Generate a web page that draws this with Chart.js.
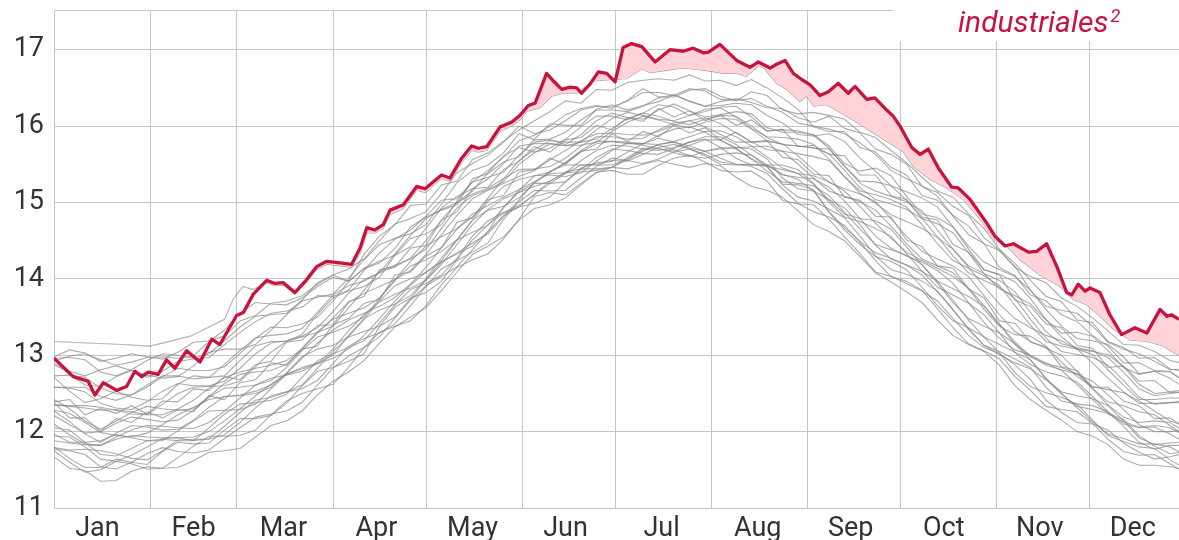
<!DOCTYPE html>
<html>
<head>
<meta charset="utf-8">
<script src="https://cdn.jsdelivr.net/npm/chart.js@4.4.0/dist/chart.umd.min.js"></script>
<style>
  html, body { margin: 0; padding: 0; background: #fff; overflow: hidden; }
  #grafico { display: block; }
</style>
</head>
<body>
<canvas id="grafico" width="1179" height="540"></canvas>
<script>
// ejes
var monthStarts = [0, 31, 59, 90, 120, 151, 181, 212, 243, 273, 304, 334]
var monthMids = [14, 45, 74, 104, 135, 165, 196, 227, 257, 287, 318, 348]
var monthNames = ['Jan', 'Feb', 'Mar', 'Apr', 'May', 'Jun', 'Jul', 'Aug', 'Sep', 'Oct', 'Nov', 'Dec']
var yTicks = [11, 12, 13, 14, 15, 16, 17]

// año actual (linea roja)
var redDays = [0, 6.2, 11, 13.2, 15.9, 20.2, 23.4, 26.1, 28.3, 30.4, 33.6, 36.3, 39, 42.8, 47.1, 50.9, 53.5, 58.9, 61.1, 64.3,
  68.6, 71.3, 74, 77.7, 81.5, 84.7, 88, 92.3, 96, 98.7, 100.9, 103.5, 106.2, 108.4, 112.7, 117, 119.7, 125, 127.7, 131.5,
  134.7, 136.9, 139.6, 143.9, 147.6, 150.3, 153, 155.2, 158.9, 161.1, 163.8, 166.5, 168.6, 170.2, 172.9, 175.6, 178.3, 181, 183.6, 186.3,
  189.6, 193.9, 198.7, 203, 206.2, 209.5, 211.1, 214.8, 220.2, 224.5, 227.2, 231, 233.1, 235.8, 238.5, 241.2, 243.9, 247.1, 249.8, 253,
  256.2, 258.4, 262.2, 264.8, 268.6, 270.7, 272.9, 276.7, 279.4, 282, 285.3, 289.6, 291.7, 295.5, 300.9, 303.5, 306.8, 309.5, 314.3, 317,
  320.2, 323.5, 326.7, 328.3, 330.4, 332.6, 334.2, 337.4, 340.6, 344.4, 348.7, 352.5, 356.8, 359, 360.5, 362.9, 364]
var redTemps = [12.96, 12.72, 12.66, 12.48, 12.64, 12.54, 12.59, 12.79, 12.72, 12.78, 12.75, 12.94, 12.83, 13.06, 12.91, 13.21, 13.14, 13.52, 13.56, 13.80,
  13.98, 13.94, 13.95, 13.82, 13.99, 14.16, 14.23, 14.21, 14.19, 14.40, 14.67, 14.64, 14.71, 14.90, 14.97, 15.21, 15.18, 15.36, 15.32, 15.58,
  15.74, 15.71, 15.73, 15.99, 16.05, 16.14, 16.27, 16.30, 16.69, 16.59, 16.48, 16.51, 16.50, 16.43, 16.55, 16.71, 16.69, 16.58, 17.03, 17.08,
  17.04, 16.84, 17.00, 16.98, 17.02, 16.96, 16.97, 17.07, 16.86, 16.77, 16.84, 16.76, 16.81, 16.86, 16.69, 16.61, 16.54, 16.40, 16.45, 16.56,
  16.43, 16.52, 16.35, 16.37, 16.21, 16.13, 16.00, 15.72, 15.63, 15.70, 15.45, 15.20, 15.19, 15.04, 14.73, 14.56, 14.43, 14.46, 14.35, 14.36,
  14.46, 14.16, 13.82, 13.79, 13.93, 13.84, 13.88, 13.82, 13.53, 13.27, 13.36, 13.29, 13.60, 13.51, 13.53, 13.47, 13.44]

// maximo de los años anteriores
var maxDays = [0, 11, 22, 31, 44, 55, 58, 61, 64.3, 68.6, 71.3, 74, 77.7, 81.5, 84.7, 88, 92.3, 96, 98.7, 100.9,
  103.5, 106.2, 108.4, 112.7, 117, 119.7, 125, 127.7, 131.5, 134.7, 136.9, 139.6, 143.9, 147.6, 150.3,
  152.5, 156.8, 160.5, 164.3, 168.6, 174, 180.4, 184.7, 189.6, 192.3, 197.6, 203, 207.3, 211.6, 215.9, 220.2, 223.4, 227.2, 229, 233.1,
  236.3, 240.6, 242.8, 245, 249.3, 255.7, 260, 264.3, 268.6, 274, 277.2, 282.6, 288, 293.3, 298.7, 303.5, 307.3, 311.6, 318, 324.5,
  328.8, 333.1, 337.4, 341.7, 347.1, 352.5, 357.8, 362.9, 365]
var maxTemps = [13.18, 13.16, 13.14, 13.12, 13.25, 13.47, 13.75, 13.90, 13.86, 13.95, 13.91, 13.92, 13.80, 13.96, 14.12, 14.19, 14.17, 14.15, 14.33, 14.60,
  14.60, 14.66, 14.84, 14.92, 15.16, 15.13, 15.31, 15.28, 15.52, 15.68, 15.66, 15.68, 15.93, 16.00, 16.08,
  16.19, 16.24, 16.39, 16.43, 16.43, 16.59, 16.61, 16.62, 16.75, 16.70, 16.73, 16.76, 16.74, 16.72, 16.69, 16.69, 16.65, 16.79, 16.76, 16.56,
  16.48, 16.32, 16.39, 16.26, 16.28, 16.13, 16.02, 15.91, 15.80, 15.66, 15.47, 15.30, 15.19, 15.04, 14.78, 14.51, 14.43, 14.25, 14.05, 13.90,
  13.73, 13.66, 13.51, 13.34, 13.20, 13.18, 13.12, 12.99, 12.97]

// años anteriores (cada 5 dias)
var grayDays = [0, 5, 10, 15, 20, 25, 30, 35, 40, 45, 50, 55, 60, 65, 70, 75, 80, 85, 90, 95, 100, 105, 110, 115, 120, 125, 130, 135, 140, 145,
  150, 155, 160, 165, 170, 175, 180, 185, 190, 195, 200, 205, 210, 215, 220, 225, 230, 235, 240, 245, 250, 255, 260, 265, 270, 275, 280, 285, 290, 295,
  300, 305, 310, 315, 320, 325, 330, 335, 340, 345, 350, 355, 360, 365]

var s01 = [11.75,11.60,11.47,11.50,11.61,11.58,11.51,11.52,11.66,11.81,11.94,11.94,11.95,12.02,12.22,12.40,12.50,12.56,12.62,12.84,13.10,13.30,13.38,13.45,13.65,13.92,14.15,14.25,14.33,14.52,14.78,15.08,15.13,15.10,15.25,15.40,15.42,15.37,15.37,15.49,15.58,15.62,15.53,15.42,15.40,15.41,15.28,15.03,14.98,14.97,14.78,14.55,14.33,14.09,14.03,13.97,13.85,13.61,13.36,13.15,13.06,12.95,12.72,12.54,12.33,12.29,12.26,12.11,11.90,11.74,11.69,11.70,11.58,11.46]
var s02 = [11.79,11.76,11.77,11.75,11.71,11.65,11.63,11.75,11.89,11.90,11.90,11.96,12.12,12.31,12.47,12.52,12.56,12.67,12.89,13.12,13.22,13.29,13.41,13.65,13.90,14.13,14.24,14.35,14.47,14.78,15.01,15.16,15.15,15.16,15.32,15.47,15.58,15.55,15.51,15.57,15.66,15.70,15.61,15.50,15.49,15.50,15.47,15.23,15.07,15.02,14.91,14.80,14.56,14.30,14.12,14.06,13.97,13.84,13.60,13.34,13.13,13.05,12.95,12.84,12.58,12.40,12.36,12.34,12.26,12.07,11.86,11.77,11.82,11.82]
var s03 = [12.05,12.02,11.86,11.70,11.68,11.78,11.88,11.90,11.88,11.88,12.05,12.23,12.36,12.38,12.41,12.49,12.71,12.93,13.02,13.10,13.19,13.42,13.66,13.86,13.94,14.05,14.27,14.56,14.76,14.87,14.96,15.10,15.25,15.38,15.49,15.49,15.49,15.57,15.69,15.75,15.69,15.61,15.58,15.63,15.65,15.62,15.47,15.24,15.23,15.17,14.87,14.64,14.45,14.29,14.23,14.12,13.89,13.65,13.45,13.36,13.24,13.03,12.77,12.59,12.51,12.45,12.36,12.15,11.95,11.87,11.80,11.78,11.63,11.51]
var s04 = [11.97,11.86,11.86,11.88,11.96,11.92,11.88,11.88,12.01,12.14,12.27,12.28,12.29,12.36,12.56,12.75,12.84,12.90,13.00,13.26,13.48,13.59,13.67,13.78,14.00,14.28,14.51,14.61,14.70,14.93,15.16,15.35,15.36,15.34,15.39,15.54,15.68,15.78,15.75,15.70,15.67,15.75,15.82,15.82,15.70,15.57,15.47,15.43,15.38,15.24,15.00,14.81,14.75,14.66,14.56,14.33,14.10,13.89,13.79,13.68,13.53,13.29,13.03,12.88,12.78,12.73,12.65,12.46,12.26,12.10,12.05,12.06,11.97,11.85]
var s05 = [12.27,12.13,11.97,11.86,11.98,12.08,12.06,12.02,12.03,12.15,12.32,12.46,12.47,12.50,12.58,12.77,12.98,13.08,13.13,13.24,13.47,13.71,13.91,14.00,14.08,14.24,14.51,14.77,14.90,14.95,15.06,15.25,15.41,15.49,15.49,15.50,15.54,15.66,15.77,15.84,15.79,15.71,15.67,15.70,15.72,15.70,15.57,15.32,15.18,15.15,15.04,14.93,14.71,14.44,14.26,14.18,14.10,13.97,13.72,13.46,13.24,13.14,13.04,12.94,12.70,12.49,12.33,12.29,12.24,12.16,11.95,11.81,11.71,11.74]
var s06 = [12.21,12.09,11.98,12.00,12.11,12.19,12.16,12.13,12.15,12.28,12.45,12.57,12.58,12.61,12.67,12.84,13.06,13.24,13.30,13.38,13.50,13.74,13.98,14.17,14.25,14.36,14.51,14.77,15.01,15.21,15.30,15.35,15.40,15.52,15.68,15.80,15.80,15.77,15.77,15.88,15.96,15.99,15.92,15.81,15.72,15.73,15.74,15.67,15.50,15.32,15.15,15.08,15.01,14.90,14.69,14.46,14.26,14.17,14.08,13.87,13.60,13.38,13.27,13.25,13.12,12.91,12.72,12.59,12.55,12.51,12.40,12.27,12.14,12.08]
var s07 = [12.42,12.30,12.14,12.03,12.14,12.25,12.33,12.30,12.28,12.30,12.46,12.63,12.75,12.78,12.80,12.88,13.09,13.31,13.47,13.55,13.62,13.75,13.99,14.23,14.43,14.55,14.66,14.81,15.06,15.31,15.43,15.44,15.47,15.58,15.74,15.86,15.86,15.83,15.84,15.95,16.04,16.07,15.99,15.89,15.79,15.79,15.80,15.77,15.61,15.43,15.26,15.18,15.11,15.01,14.79,14.56,14.36,14.26,14.17,14.03,13.78,13.53,13.31,13.18,13.09,13.00,12.79,12.57,12.39,12.34,12.26,12.22,12.08,11.94]
var s08 = [12.35,12.34,12.34,12.32,12.28,12.23,12.22,12.36,12.50,12.58,12.59,12.60,12.66,12.85,13.04,13.18,13.24,13.30,13.38,13.62,13.85,14.10,14.18,14.26,14.39,14.66,14.93,15.09,15.17,15.27,15.50,15.65,15.77,15.75,15.75,15.79,15.93,16.05,16.13,16.08,16.02,15.98,16.05,16.10,16.09,15.96,15.81,15.76,15.74,15.71,15.70,15.48,15.25,15.15,15.08,15.01,14.89,14.64,14.39,14.17,14.07,13.98,13.83,13.56,13.31,13.15,13.10,13.06,12.97,12.78,12.56,12.47,12.50,12.52]
var s09 = [12.58,12.57,12.52,12.37,12.31,12.29,12.39,12.53,12.63,12.60,12.60,12.66,12.83,13.02,13.16,13.19,13.25,13.36,13.57,13.81,13.99,14.08,14.16,14.27,14.50,14.77,15.00,15.11,15.19,15.31,15.55,15.69,15.81,15.79,15.79,15.83,15.97,16.10,16.17,16.13,16.06,16.02,16.09,16.14,16.13,16.00,15.85,15.76,15.74,15.72,15.64,15.42,15.19,15.04,14.98,14.91,14.79,14.55,14.30,14.08,13.98,13.89,13.74,13.47,13.22,13.05,13.01,12.97,12.87,12.67,12.45,12.36,12.38,12.41]
var s10 = [12.58,12.58,12.58,12.46,12.41,12.48,12.61,12.73,12.73,12.69,12.71,12.88,13.06,13.23,13.26,13.28,13.35,13.56,13.79,13.91,13.97,14.08,14.33,14.57,14.79,14.91,15.00,15.15,15.39,15.61,15.72,15.66,15.71,15.83,15.99,16.13,16.13,16.08,16.17,16.28,16.25,16.14,16.19,16.25,16.26,16.12,15.94,15.95,15.94,15.88,15.71,15.47,15.28,15.27,15.22,15.03,14.79,14.72,14.60,14.34,14.07,13.87,13.78,13.67,13.46,13.24,13.08,13.05,13.01,12.85,12.62,12.50,12.52,12.55]
var s11 = [12.90,12.75,12.61,12.59,12.72,12.80,12.74,12.70,12.72,12.86,13.04,13.08,13.08,13.14,13.33,13.53,13.71,13.76,13.80,14.01,14.25,14.45,14.53,14.59,14.71,14.98,15.26,15.42,15.49,15.65,15.90,15.82,15.83,15.92,16.08,16.21,16.21,16.19,16.26,16.37,16.41,16.33,16.26,16.27,16.30,16.28,16.14,16.04,15.89,15.87,15.90,15.80,15.58,15.41,15.22,15.14,15.06,14.94,14.68,14.43,14.22,14.12,14.03,13.85,13.60,13.38,13.22,13.19,13.14,12.98,12.76,12.79,12.78,12.66]
var s12 = [12.96,12.97,12.94,12.78,12.73,12.81,12.93,13.02,13.00,12.96,13.02,13.19,13.37,13.51,13.53,13.55,13.72,13.95,14.05,14.13,14.26,14.50,14.72,14.79,14.88,15.12,15.39,15.51,15.62,15.79,16.00,15.90,15.95,16.07,16.21,16.26,16.25,16.33,16.44,16.44,16.40,16.49,16.46,16.35,16.34,16.36,16.26,16.18,16.04,16.00,15.96,15.90,15.78,15.63,15.42,15.31,15.22,15.08,14.82,14.58,14.46,14.37,14.16,13.85,13.64,13.59,13.55,13.38,13.17,13.08,13.02,12.92,12.81,12.82]
var s13 = [11.80,11.65,11.53,11.53,11.64,11.60,11.57,11.74,11.86,11.84,11.85,12.02,12.17,12.17,12.21,12.37,12.60,12.79,12.84,12.92,13.02,13.38,13.63,13.75,13.82,13.97,14.25,14.51,14.71,14.86,14.94,15.11,15.28,15.40,15.44,15.44,15.46,15.59,15.71,15.71,15.65,15.60,15.67,15.72,15.71,15.57,15.41,15.27,15.25,15.22,15.09,14.87,14.65,14.45,14.38,14.31,14.19,13.94,13.69,13.48,13.38,13.29,13.15,12.94,12.69,12.52,12.47,12.43,12.34,12.14,11.92,11.83,11.85,11.87]
var s14 = [11.88,11.85,11.83,11.82,11.90,11.95,11.93,11.92,11.92,11.93,12.00,12.14,12.30,12.47,12.62,12.75,12.82,12.89,12.96,13.08,13.26,13.48,13.71,13.92,14.09,14.22,14.34,14.47,14.59,14.81,15.03,15.27,15.38,15.39,15.40,15.42,15.46,15.56,15.67,15.76,15.79,15.74,15.67,15.58,15.50,15.49,15.49,15.37,15.30,15.15,14.88,14.67,14.49,14.34,14.27,14.18,14.05,13.83,13.59,13.35,13.13,13.01,12.90,12.82,12.68,12.50,12.31,12.13,11.97,11.91,11.84,11.84,11.80,11.69]
var s15 = [12.28,12.24,12.12,11.99,11.95,11.93,11.98,12.09,12.22,12.32,12.42,12.46,12.48,12.53,12.61,12.76,12.96,13.16,13.33,13.46,13.55,13.64,13.76,13.93,14.15,14.41,14.65,14.85,14.96,15.07,15.17,15.27,15.40,15.52,15.66,15.77,15.80,15.79,15.77,15.76,15.80,15.86,15.93,15.94,15.86,15.74,15.60,15.45,15.38,15.35,15.27,15.15,14.95,14.73,14.53,14.35,14.24,14.14,14.03,13.88,13.65,13.41,13.17,12.99,12.87,12.81,12.75,12.66,12.48,12.29,12.09,12.00,12.00,12.02]
var s16 = [12.35,12.33,12.31,12.28,12.29,12.26,12.22,12.22,12.30,12.41,12.57,12.71,12.78,12.83,12.87,12.93,13.08,13.29,13.49,13.69,13.81,13.90,13.99,14.11,14.32,14.58,14.83,15.05,15.16,15.25,15.34,15.42,15.56,15.68,15.81,15.90,15.91,15.89,15.88,15.93,16.01,16.07,16.11,16.03,15.91,15.79,15.69,15.67,15.64,15.60,15.55,15.34,15.12,14.99,14.84,14.75,14.66,14.54,14.39,14.15,13.90,13.67,13.48,13.36,13.26,13.19,13.08,12.90,12.70,12.52,12.37,12.37,12.38,12.38]
var s17 = [12.71,12.53,12.38,12.43,12.53,12.45,12.41,12.43,12.62,12.73,12.71,12.73,12.93,13.12,13.18,13.18,13.27,13.54,13.75,13.84,13.90,14.02,14.31,14.53,14.59,14.71,15.02,15.27,15.33,15.40,15.62,15.79,15.82,15.76,15.89,16.07,16.17,16.11,16.09,16.21,16.29,16.20,16.12,16.15,16.19,16.16,15.98,15.92,15.92,15.89,15.74,15.51,15.41,15.45,15.35,15.08,14.85,14.80,14.68,14.39,14.12,14.06,13.96,13.74,13.47,13.29,13.30,13.25,13.06,12.84,12.75,12.79,12.70,12.56]
var s18 = [11.94,11.93,11.80,11.64,11.61,11.69,11.80,11.91,11.92,11.88,11.91,12.07,12.25,12.41,12.45,12.52,12.61,12.83,13.05,13.24,13.31,13.38,13.50,13.74,13.99,14.22,14.33,14.43,14.62,14.94,15.14,15.25,15.25,15.27,15.43,15.59,15.70,15.68,15.64,15.63,15.71,15.79,15.83,15.72,15.58,15.49,15.49,15.49,15.43,15.25,15.03,14.85,14.79,14.76,14.65,14.42,14.18,13.97,13.87,13.77,13.64,13.40,13.14,12.98,12.89,12.84,12.76,12.56,12.35,12.19,12.12,12.14,12.12,11.99]
var s19 = [12.73,12.74,12.71,12.57,12.50,12.48,12.58,12.72,12.83,12.80,12.80,12.85,13.02,13.22,13.37,13.36,13.41,13.50,13.71,13.96,14.14,14.23,14.31,14.42,14.66,14.93,15.08,15.18,15.31,15.51,15.74,15.77,15.77,15.74,15.79,15.95,16.10,16.18,16.14,16.09,16.07,16.14,16.22,16.24,16.12,15.97,15.86,15.85,15.83,15.76,15.57,15.34,15.15,15.10,15.04,14.94,14.71,14.46,14.24,14.14,14.04,13.91,13.65,13.39,13.18,13.12,13.08,13.01,12.81,12.61,12.42,12.42,12.44,12.44]
var s20 = [12.10,11.96,11.84,11.82,11.93,12.02,12.08,12.07,12.05,12.04,12.12,12.27,12.44,12.61,12.70,12.74,12.79,12.89,13.08,13.32,13.53,13.70,13.80,13.88,13.98,14.19,14.45,14.71,14.91,15.05,15.13,15.21,15.28,15.39,15.55,15.68,15.75,15.74,15.70,15.68,15.72,15.79,15.86,15.86,15.76,15.62,15.49,15.36,15.33,15.31,15.20,15.02,14.79,14.56,14.40,14.30,14.22,14.11,13.94,13.69,13.43,13.22,13.07,13.00,12.90,12.80,12.62,12.42,12.23,12.13,12.06,12.08,12.05,11.94]
var s21 = [12.98,13.07,13.03,12.92,12.96,13.02,12.98,12.95,13.04,13.17,13.19,13.25,13.45,13.52,13.68,13.71,13.78,13.93,14.05,13.97,14.32,14.56,14.71,14.96,14.98,15.23,15.28,15.56,15.65,15.80,15.95,16.07,16.19,16.33,16.30,16.48,16.47,16.57,16.60,16.62,16.60,16.67,16.59,16.60,16.53,16.61,16.50,16.37,16.22,15.99,15.93,15.93,15.72,15.66,15.46,15.36,15.09,15.03,14.83,14.69,14.46,14.15,14.04,13.79,13.71,13.53,13.44,13.26,13.12,12.90,12.90,12.80,12.79,12.64]
var s22 = [12.87,12.79,12.73,12.81,12.86,12.80,12.71,12.79,12.92,12.95,12.97,13.14,13.30,13.44,13.55,13.58,13.63,13.78,13.77,13.85,14.11,14.34,14.52,14.64,14.82,15.03,15.05,15.27,15.42,15.59,15.81,15.88,16.00,16.15,16.23,16.27,16.23,16.34,16.49,16.38,16.38,16.47,16.49,16.39,16.33,16.45,16.40,16.21,16.16,16.18,16.14,16.09,15.92,15.85,15.68,15.52,15.33,15.15,15.07,14.85,14.66,14.39,14.20,13.98,13.77,13.70,13.46,13.43,13.18,13.10,12.96,12.97,12.82,12.78]
var s23 = [12.92,12.99,13.02,12.94,12.87,12.91,12.97,12.98,12.96,12.99,13.18,13.33,13.55,13.69,13.67,13.66,13.75,13.90,14.02,13.97,14.13,14.21,14.40,14.68,14.81,14.90,14.97,15.31,15.38,15.53,15.60,15.83,16.03,16.01,16.01,16.22,16.28,16.21,16.27,16.32,16.41,16.32,16.26,16.32,16.36,16.31,16.24,16.23,16.11,16.05,16.13,15.97,15.91,15.70,15.63,15.50,15.21,15.13,14.95,14.83,14.54,14.37,14.15,14.03,13.95,13.75,13.64,13.49,13.32,13.14,13.13,13.05,12.93,12.89]
var s24 = [11.67,11.52,11.49,11.35,11.36,11.48,11.54,11.52,11.53,11.62,11.73,11.75,11.78,11.93,12.08,12.14,12.27,12.48,12.66,12.78,12.93,13.16,13.37,13.50,13.62,13.85,14.09,14.32,14.43,14.55,14.77,14.92,14.97,15.06,15.23,15.39,15.46,15.44,15.50,15.55,15.50,15.46,15.51,15.48,15.33,15.21,15.16,15.07,14.89,14.71,14.62,14.50,14.29,14.08,13.96,13.83,13.69,13.46,13.26,13.14,13.05,12.87,12.60,12.42,12.28,12.15,12.00,11.94,11.83,11.64,11.56,11.56,11.54,11.50]
var s25 = [11.77,11.75,11.70,11.54,11.51,11.60,11.71,11.79,11.74,11.72,11.76,11.91,12.05,12.19,12.23,12.27,12.38,12.61,12.83,12.99,13.10,13.24,13.49,13.72,13.91,14.03,14.16,14.38,14.62,14.83,14.94,14.99,15.07,15.27,15.45,15.52,15.55,15.54,15.63,15.72,15.76,15.70,15.63,15.53,15.50,15.47,15.38,15.18,14.99,14.88,14.81,14.70,14.48,14.24,14.03,13.94,13.84,13.71,13.48,13.26,13.10,13.02,12.87,12.68,12.41,12.25,12.12,12.10,12.02,11.85,11.73,11.64,11.67,11.72]
var s26 = [12.38,12.18,12.18,12.00,12.17,12.12,12.26,12.18,12.29,12.26,12.47,12.42,12.64,12.68,12.90,12.87,13.08,13.12,13.40,13.48,13.68,13.73,14.05,14.09,14.30,14.41,14.74,14.80,15.04,15.09,15.40,15.43,15.58,15.50,15.67,15.70,15.90,15.80,15.93,15.86,16.01,15.91,15.98,15.82,15.92,15.79,15.81,15.59,15.56,15.37,15.35,15.07,15.03,14.82,14.81,14.51,14.42,14.17,14.14,13.87,13.75,13.45,13.42,13.17,13.11,12.85,12.80,12.58,12.58,12.40,12.34,12.17,12.18,12.04]
var s27 = [12.39,12.42,12.22,12.30,12.24,12.34,12.23,12.40,12.39,12.56,12.54,12.72,12.68,12.88,12.92,13.17,13.20,13.39,13.40,13.70,13.77,14.12,14.16,14.40,14.44,14.77,14.88,15.18,15.20,15.43,15.54,15.73,15.66,15.82,15.85,16.01,15.95,16.11,16.06,16.23,16.12,16.20,16.07,16.14,16.01,16.08,15.93,15.96,15.73,15.75,15.63,15.61,15.36,15.36,15.09,15.04,14.81,14.77,14.45,14.35,14.12,14.05,13.72,13.64,13.41,13.36,13.13,13.09,12.84,12.86,12.66,12.67,12.51,12.52]

var pastYears = [s01, s02, s03, s04, s05, s06, s07, s08, s09, s10, s11, s12, s13, s14, s15, s16, s17, s18, s19, s20,
  s21, s22, s23, s24, s25, s26, s27]

var rojo = '#c8143c'
var rosa = '#ffd3d8'
var gris = 'rgba(135,135,135,0.7)'
var rejilla = '#c6c6c6'
var fuente = 'Roboto'

function puntos(xs, ys) {
  return xs.map(function (x, i) { return { x: x, y: ys[i] } })
}

var datasets = [{
  data: puntos(redDays, redTemps),
  borderColor: rojo,
  borderWidth: 3.3,
  borderJoinStyle: 'round',
  fill: { target: 1, above: rosa, below: 'rgba(0,0,0,0)' }
}, {
  data: puntos(maxDays, maxTemps),
  borderColor: gris,
  borderWidth: 1.1,
  fill: false
}]
pastYears.forEach(function (serie) {
  datasets.push({ data: puntos(grayDays, serie), borderColor: gris, borderWidth: 1.1, fill: false })
})

var marco = {
  id: 'marco',
  beforeDatasetsDraw: function (chart) {
    var a = chart.chartArea, c = chart.ctx
    c.save()
    c.strokeStyle = rejilla
    c.lineWidth = 1
    c.beginPath()
    c.moveTo(a.left, a.top + 0.5)
    c.lineTo(a.right, a.top + 0.5)
    c.stroke()
    c.restore()
  },
  afterDraw: function (chart) {
    var c = chart.ctx
    c.save()
    c.fillStyle = '#fff'
    c.fillRect(893, 0, chart.width - 893, 41)
    c.fillStyle = rojo
    c.textBaseline = 'alphabetic'
    c.font = 'italic 30px ' + fuente
    c.fillText('industriales', 958, 32)
    var w = c.measureText('industriales').width
    c.font = 'italic 18px ' + fuente
    c.fillText('2', 958 + w + 2, 22)
    c.restore()
  }
}

new Chart(document.getElementById('grafico'), {
  type: 'line',
  data: { datasets: datasets },
  plugins: [marco],
  options: {
    responsive: false,
    animation: false,
    devicePixelRatio: 1,
    elements: { point: { radius: 0 }, line: { tension: 0 } },
    layout: { padding: { top: 10, right: 0, bottom: 0, left: 0 } },
    plugins: { legend: { display: false }, tooltip: { enabled: false } },
    scales: {
      x: {
        type: 'linear', min: 0, max: 362.9,
        afterBuildTicks: function (s) { s.ticks = monthStarts.map(function (v) { return { value: v } }) },
        ticks: { display: false },
        grid: { color: rejilla, drawTicks: false },
        border: { display: false },
        afterFit: function (s) { s.height = 0; s.paddingLeft = 0; s.paddingRight = 0 }
      },
      meses: {
        type: 'linear', position: 'bottom', min: 0, max: 362.9,
        afterBuildTicks: function (s) { s.ticks = monthMids.map(function (v) { return { value: v } }) },
        ticks: {
          font: { family: fuente, size: 27 }, color: '#333', padding: 5, maxRotation: 0, autoSkip: false,
          callback: function (v, i) { return monthNames[i] }
        },
        grid: { display: false, drawTicks: false },
        border: { display: false },
        afterFit: function (s) { s.height = 32; s.paddingLeft = 0; s.paddingRight = 0 }
      },
      y: {
        min: 11, max: 17.52,
        afterBuildTicks: function (s) { s.ticks = yTicks.map(function (v) { return { value: v } }) },
        ticks: { font: { family: fuente, size: 27 }, color: '#333', padding: 10 },
        grid: { color: rejilla, drawTicks: false },
        border: { display: true, color: rejilla },
        afterFit: function (s) { s.width = 54; s.paddingTop = 0; s.paddingBottom = 0 }
      }
    }
  }
})
</script>
</body>
</html>
